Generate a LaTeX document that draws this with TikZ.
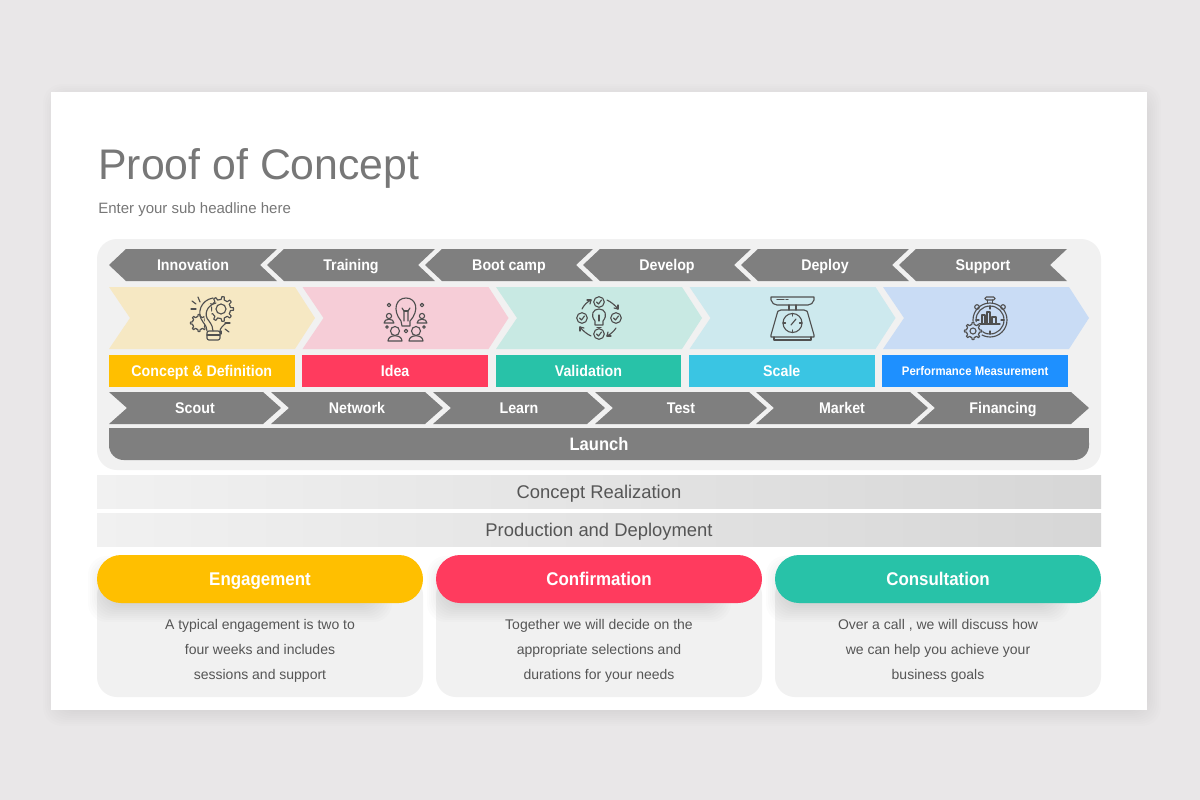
\documentclass[tikz,border=0pt]{standalone}
\usepackage{xcolor}
\usepackage{fontspec}
\setmainfont{Liberation Sans}
\newfontfamily\labelfont[FakeStretch=0.92]{Liberation Sans}
\usetikzlibrary{positioning}

\definecolor{pagebg}{HTML}{E9E7E8}
\definecolor{panelgray}{HTML}{F1F1F1}
\definecolor{arrowgray}{HTML}{7F7F7F}
\definecolor{textgray}{HTML}{555555}
\definecolor{titlegray}{HTML}{777777}
\definecolor{icongray}{HTML}{505050}
\definecolor{sunny}{HTML}{FFBF00}
\definecolor{rosy}{HTML}{FF3B5E}
\definecolor{teal}{HTML}{28C2A8}
\definecolor{sky}{HTML}{3AC5E3}
\definecolor{azure}{HTML}{1E90FF}
\definecolor{softsunny}{HTML}{F6E8C3}
\definecolor{softrosy}{HTML}{F6CDD7}
\definecolor{softteal}{HTML}{C8E9E3}
\definecolor{softsky}{HTML}{CDE9EE}
\definecolor{softazure}{HTML}{C9DCF5}

% #1 name, #2 tip x, #3 text
\newcommand{\backarrow}[3]{
    \fill [arrowgray] (#2,265) -- (#2+17,249) -- (#2+168,249) -- (#2+151,265) -- (#2+168,281) -- (#2+17,281) -- cycle;
    \node [rowtext] (#1) at (#2+84,265) {#3};
}
% #1 name, #2 left x, #3 text
\newcommand{\nextarrow}[3]{
    \fill [arrowgray] (#2,392) -- (#2+154,392) -- (#2+172,408) -- (#2+154,424) -- (#2,424) -- (#2+18,408) -- cycle;
    \node [rowtext] (#1) at (#2+86,408) {#3};
}
% #1 left x, #2 colour
\newcommand{\softarrow}[2]{
    \fill [#2] (#1,287) -- (#1+186,287) -- (#1+206,318) -- (#1+186,349) -- (#1,349) -- (#1+21,318) -- cycle;
}
% #1 x1, #2 y1, #3 x2, #4 y2, #5 opacity
\newcommand{\softshadow}[5]{
    \foreach \k in {0,...,11}
        \fill [black, opacity=#5, rounded corners=14pt] (#1-2*\k,#2-2*\k) rectangle (#3+2*\k,#4+2*\k);
}
% #1 cx, #2 cy, #3 outer, #4 inner, #5 teeth
\newcommand{\geartrack}[5]{
    \pgfmathsetmacro{\gearstep}{360/#5}
    \foreach \t in {1,...,#5} {
        \pgfmathsetmacro{\ga}{\t*\gearstep-0.5*\gearstep}
        \pgfmathsetmacro{\gb}{\t*\gearstep-0.24*\gearstep}
        \pgfmathsetmacro{\gc}{\t*\gearstep-0.14*\gearstep}
        \pgfmathsetmacro{\gd}{\t*\gearstep+0.14*\gearstep}
        \pgfmathsetmacro{\ge}{\t*\gearstep+0.24*\gearstep}
        \pgfmathsetmacro{\gf}{\t*\gearstep+0.5*\gearstep}
        \draw [iconline] ([shift={(#1,#2)}]\ga:#4) -- ([shift={(#1,#2)}]\gb:#4) -- ([shift={(#1,#2)}]\gc:#3) -- ([shift={(#1,#2)}]\gd:#3) -- ([shift={(#1,#2)}]\ge:#4) -- ([shift={(#1,#2)}]\gf:#4);
    }
}

\begin{document}
\begin{tikzpicture}[x=0.75pt, y=-0.75pt]
    \tikzstyle{rowtext} = [white, font=\fontsize{11.6}{14}\labelfont\bfseries, inner sep=0pt, text height=8.3pt, text depth=0pt]
    \tikzstyle{labelbox} = [minimum width=139.2pt, minimum height=24pt, inner sep=0pt, outer sep=0pt, white, font=\fontsize{11.6}{14}\labelfont\bfseries, text height=8.3pt, text depth=0pt]
    \tikzstyle{gradbar} = [minimum width=753pt, minimum height=24.75pt, inner sep=0pt, outer sep=0pt, left color=panelgray, right color=black!16, textgray, font=\fontsize{13.8}{16}\selectfont, text height=9.9pt, text depth=0pt]
    \tikzstyle{pill} = [minimum width=244.5pt, minimum height=36pt, rounded corners=18pt, inner sep=0pt, outer sep=0pt, white, font=\fontsize{13.8}{16}\labelfont\bfseries, text height=9.9pt, text depth=0pt]
    \tikzstyle{cardtext} = [textgray, align=center, font=\fontsize{10.5}{18.75}\selectfont, inner sep=0pt]
    \tikzstyle{iconline} = [draw=icongray, line width=0.85pt, line cap=round, line join=round]

    \useasboundingbox (0,0) rectangle (1200,800);
    \fill [pagebg] (0,0) rectangle (1200,800);
    \softshadow{65}{106}{1139}{704}{0.006}
    \fill [white] (51,92) rectangle (1147,710);

    \node [anchor=base west, titlegray, inner sep=0pt, font=\fontsize{32.1}{38}\selectfont] (title) at (98,179) {Proof of Concept};
    \node [anchor=base west, titlegray, inner sep=0pt, font=\fontsize{11.25}{14}\selectfont] (sub) at (98,213) {Enter your sub headline here};

    \fill [panelgray, rounded corners=15pt] (97,239) rectangle (1101,470);

    \backarrow{B1}{109}{Innovation}
    \backarrow{B2}{267}{Training}
    \backarrow{B3}{425}{Boot camp}
    \backarrow{B4}{583}{Develop}
    \backarrow{B5}{741}{Deploy}
    \backarrow{B6}{899}{Support}

    \softarrow{109}{softsunny}
    \softarrow{302.5}{softrosy}
    \softarrow{496}{softteal}
    \softarrow{689.5}{softsky}
    \softarrow{883}{softazure}

    \node [labelbox, fill=sunny, anchor=north west] (L1) at (109,355) {Concept \& Definition};
    \node [labelbox, fill=rosy, right = 5.8pt of L1] (L2) {Idea};
    \node [labelbox, fill=teal, right = 5.8pt of L2] (L3) {Validation};
    \node [labelbox, fill=sky, right = 5.8pt of L3] (L4) {Scale};
    \node [labelbox, fill=azure, right = 5.8pt of L4, font=\fontsize{9.3}{12}\labelfont\bfseries, text height=6.7pt] (L5) {Performance Measurement};

    \nextarrow{N1}{109}{Scout}
    \nextarrow{N2}{271}{Network}
    \nextarrow{N3}{433}{Learn}
    \nextarrow{N4}{595}{Test}
    \nextarrow{N5}{756}{Market}
    \nextarrow{N6}{917}{Financing}

    \fill [arrowgray, rounded corners=11pt] (109,428) rectangle (1089,460);
    \fill [arrowgray] (109,428) rectangle (1089,445);
    \node [rowtext, font=\fontsize{13.5}{16}\labelfont\bfseries, text height=9.7pt] (launch) at (599,444) {Launch};

    \node [gradbar, anchor=north west] (R1) at (97,475) {Concept Realization};
    \node [gradbar, below = 3.75pt of R1] (R2) {Production and Deployment};

    % lower cards
    \fill [panelgray, rounded corners=15pt] (97,575) rectangle (423,697);
    \fill [panelgray, rounded corners=15pt] (436,575) rectangle (762,697);
    \fill [panelgray, rounded corners=15pt] (775,575) rectangle (1101,697);
    \softshadow{110}{578}{370}{600}{0.011}
    \softshadow{449}{578}{709}{600}{0.011}
    \softshadow{788}{578}{1048}{600}{0.011}

    \node [pill, fill=sunny, anchor=north west] (P1) at (97,555) {Engagement};
    \node [pill, fill=rosy, right = 9.75pt of P1] (P2) {Confirmation};
    \node [pill, fill=teal, right = 9.75pt of P2] (P3) {Consultation};

    \node [cardtext] (T1) at (260,651) {A typical engagement is two to\\four weeks and includes\\sessions and support};
    \node [cardtext] (T2) at (599,651) {Together we will decide on the\\appropriate selections and\\durations for your needs};
    \node [cardtext] (T3) at (938,651) {Over a call , we will discuss how\\we can help you achieve your\\business goals};

    % icon gears and bulb
    \geartrack{221}{309}{12.5}{9.5}{9}
    \draw [iconline] (221,309) circle (5);
    \geartrack{199}{323}{8.5}{6.5}{8}
    \fill [softsunny] (204,312) -- (210,302) -- (212,318) -- (213,334) -- (206,334) -- cycle;
    \draw [iconline] (213,298) .. controls (201,300) and (196,313) .. (203,322) .. controls (206,326) and (207,328) .. (207,331);
    \draw [iconline] (216,303) .. controls (207,305) and (203,315) .. (209,321) .. controls (212,325) and (213,328) .. (213,331);
    \draw [iconline] (226,323) .. controls (223,326) and (220,328) .. (220,331);
    \draw [iconline, rounded corners=1.5pt] (207,331) rectangle (220,340);
    \draw [iconline] (207,335) -- (220,335);
    \draw [iconline] (192,301) -- (196,304);
    \draw [iconline] (198,297) -- (200,302);
    \draw [iconline] (191,309) -- (196,309);
    \draw [iconline] (225,323) -- (230,323);
    \draw [iconline] (225,329) -- (229,332);
    \draw [iconline] (221,331) -- (221,334);

    % icon bulb and people
    \draw [iconline] (401,321) .. controls (392,310) and (396,298) .. (406,298) .. controls (416,298) and (420,310) .. (410,321) -- (410,326) -- (402,326) -- cycle;
    \draw [iconline] (402,308) -- (404,311) -- (404,321);
    \draw [iconline] (410,308) -- (408,311) -- (408,321);
    \draw [iconline] (404,311) -- (408,311);
    \draw [iconline] (389,305) circle (1.8);
    \draw [iconline] (422,305) circle (1.8);
    \draw [iconline] (406,331) circle (1.8);
    \draw [iconline] (387,327) circle (1.3);
    \draw [iconline] (424,327) circle (1.3);
    \draw [iconline] (389,316) circle (2.6);
    \draw [iconline] (384,323) .. controls (384,318) and (394,318) .. (394,323) -- cycle;
    \draw [iconline] (422,316) circle (2.6);
    \draw [iconline] (417,323) .. controls (417,318) and (427,318) .. (427,323) -- cycle;
    \draw [iconline] (395,331) circle (4.5);
    \draw [iconline] (388,341) .. controls (388,334) and (402,334) .. (402,341) -- cycle;
    \draw [iconline] (416,331) circle (4.5);
    \draw [iconline] (409,341) .. controls (409,334) and (423,334) .. (423,341) -- cycle;

    % icon check cycle
    \draw [iconline] (599,302) circle (5.3);
    \draw [iconline] (582,318) circle (5.3);
    \draw [iconline] (616,318) circle (5.3);
    \draw [iconline] (599,334) circle (5.3);
    \draw [iconline] (596.5,302) -- (598.5,304) -- (601.5,300);
    \draw [iconline] (579.5,318) -- (581.5,320) -- (584.5,316);
    \draw [iconline] (613.5,318) -- (615.5,320) -- (618.5,316);
    \draw [iconline] (596.5,334) -- (598.5,336) -- (601.5,332);
    \draw [iconline] (595,321) .. controls (590,315) and (593,309) .. (599,309) .. controls (605,309) and (608,315) .. (603,321) -- (603,325) -- (595,325) -- cycle;
    \draw [iconline] (599,315) -- (599,321);
    \draw [iconline] (597,327.5) -- (601,327.5);
    \draw [iconline] (582,309) .. controls (584,305) and (587,302) .. (591,300);
    \draw [iconline] (591,300) -- (587,300);
    \draw [iconline] (591,300) -- (590,304);
    \draw [iconline] (607,300) .. controls (611,302) and (615,305) .. (618,309);
    \draw [iconline] (618,309) -- (618,305);
    \draw [iconline] (618,309) -- (614,308);
    \draw [iconline] (616,328) .. controls (614,331) and (611,334) .. (607,336);
    \draw [iconline] (607,336) -- (611,336);
    \draw [iconline] (607,336) -- (608,332);
    \draw [iconline] (591,336) .. controls (587,334) and (583,331) .. (580,327);
    \draw [iconline] (580,327) -- (580,331);
    \draw [iconline] (580,327) -- (584,328);

    % icon scale
    \draw [iconline] (771,297) -- (814,297) -- (814,300) .. controls (813,303) and (811,305) .. (808,305) -- (777,305) .. controls (774,305) and (772,303) .. (771,300) -- cycle;
    \draw [iconline] (777,299.5) -- (784,299.5);
    \draw [iconline] (786,299.5) -- (788,299.5);
    \draw [iconline] (789,305) -- (789,310);
    \draw [iconline] (796,305) -- (796,310);
    \draw [iconline] (781,310) -- (804,310) .. controls (807,310) and (808,312) .. (808,314) -- (814,335) -- (814,337) -- (771,337) -- (771,335) -- (777,314) .. controls (777,312) and (778,310) .. (781,310) -- cycle;
    \draw [iconline] (774,337) -- (774,340) -- (811,340) -- (811,337);
    \draw [iconline] (792.5,323) circle (9.5);
    \draw [iconline] (791,325) -- (796,319);
    \draw [iconline] (792.5,313.5) -- (792.5,316);
    \draw [iconline] (783,323) -- (785.5,323);
    \draw [iconline] (802,323) -- (799.5,323);
    \draw [iconline] (792.5,332.5) -- (792.5,330);

    % icon stopwatch and gear
    \draw [iconline] (990,320) circle (17);
    \draw [iconline] (990,320) circle (14);
    \draw [iconline, rounded corners=1pt] (985,297) rectangle (995,300);
    \draw [iconline] (987.5,300) -- (987.5,303);
    \draw [iconline] (992.5,300) -- (992.5,303);
    \draw [iconline] (977,307) circle (2.3);
    \draw [iconline] (1003,307) circle (2.3);
    \draw [iconline] (982,324) -- (982,315) -- (985,315) -- (985,324);
    \draw [iconline] (987,324) -- (987,312) -- (990,312) -- (990,324);
    \draw [iconline] (992,324) -- (992,317) -- (996,317) -- (996,324);
    \draw [iconline] (977,324) -- (1000,324);
    \draw [iconline] (990,306) -- (990,309);
    \draw [iconline] (1004,320) -- (1001,320);
    \draw [iconline] (990,334) -- (990,331);
    \draw [iconline] (976,320) -- (979,320);
    \fill [softazure] (973,331) circle (9.5);
    \geartrack{973}{331}{8.5}{6.5}{8}
    \draw [iconline] (973,331) circle (3);
\end{tikzpicture}
\end{document}
